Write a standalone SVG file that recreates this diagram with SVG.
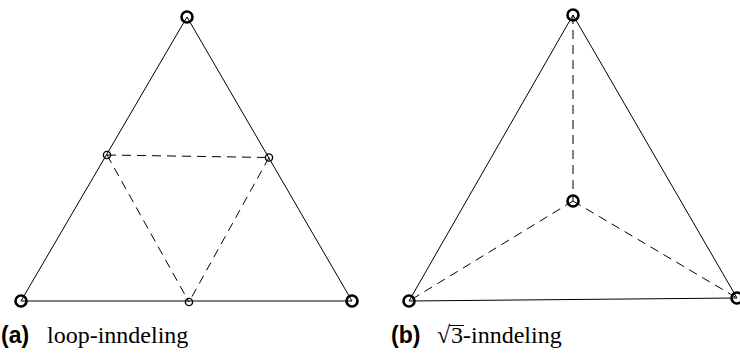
<svg xmlns="http://www.w3.org/2000/svg" width="740" height="356" viewBox="0 0 740 356">
<style>
.edge{stroke:#000;stroke-width:1;fill:none}
.dash{stroke:#000;stroke-width:1;fill:none;stroke-dasharray:9,6}
.big{fill:none;stroke:#000;stroke-width:2.6}
.small{fill:none;stroke:#000;stroke-width:1.4}
.lab{font-family:"Liberation Sans",Arial,sans-serif;font-weight:bold;font-size:23px}
.cap{font-family:"Liberation Serif","Times New Roman",serif;font-size:24px}
</style>
<rect width="740" height="356" fill="#fff"/>
<g id="connectors">
<line class="edge" x1="187" y1="17" x2="21" y2="301"/>
<line class="edge" x1="187" y1="17" x2="352" y2="301"/>
<line class="edge" x1="21" y1="301" x2="352" y2="301"/>
<line class="dash" x1="107" y1="155" x2="269" y2="157.5"/>
<line class="dash" x1="107" y1="155" x2="189" y2="302"/>
<line class="dash" x1="269" y1="157.5" x2="189" y2="302"/>
<line class="edge" x1="573" y1="15" x2="409" y2="301"/>
<line class="edge" x1="573" y1="15" x2="737" y2="298"/>
<line class="edge" x1="409" y1="301" x2="737" y2="298"/>
<line class="dash" x1="573" y1="15" x2="573" y2="201"/>
<line class="dash" x1="573" y1="201" x2="409" y2="301"/>
<line class="dash" x1="573" y1="201" x2="737" y2="298"/>
</g>
<g id="a-top"><circle class="big" cx="187" cy="17" r="5.5"/></g>
<g id="a-left"><circle class="big" cx="21" cy="301" r="5.5"/></g>
<g id="a-right"><circle class="big" cx="352" cy="301" r="5.5"/></g>
<g id="a-midleft"><circle class="small" cx="107" cy="155" r="3.6"/></g>
<g id="a-midright"><circle class="small" cx="269" cy="157.5" r="3.6"/></g>
<g id="a-midbottom"><circle class="small" cx="189" cy="302" r="3.6"/></g>
<g id="b-top"><circle class="big" cx="573" cy="15" r="5.5"/></g>
<g id="b-center"><circle class="big" cx="573" cy="201" r="5.5"/></g>
<g id="b-left"><circle class="big" cx="409" cy="301" r="5.5"/></g>
<g id="b-right"><circle class="big" cx="737" cy="298" r="5.5"/></g>
<g id="captions">
<text class="lab" x="1" y="343">(a)</text>
<text class="cap" x="47" y="343">loop-inndeling</text>
<text class="lab" x="391" y="343">(b)</text>
<text class="cap" x="437" y="343">√</text>
<text class="cap" x="451" y="343">3-inndeling</text>
<line x1="449" y1="325.5" x2="464" y2="325.5" stroke="#000" stroke-width="1"/>
</g>
</svg>
